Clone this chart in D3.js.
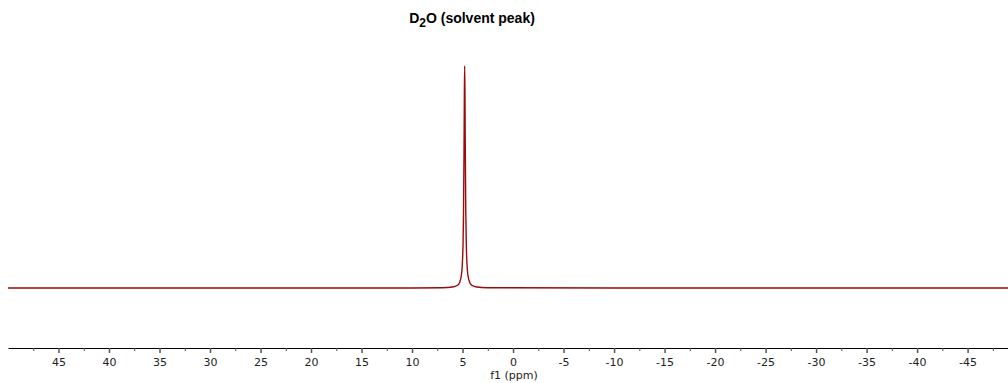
<!DOCTYPE html>
<html>
<head>
<meta charset="utf-8">
<script src="https://cdn.jsdelivr.net/npm/d3@7"></script>
<style>
  body { margin: 0; background: #fff; }
  svg { display: block; }
</style>
</head>
<body>
<div id="chart"></div>
<script>
var width = 1008;
var height = 383;

// spectrum points: chemical shift (ppm) and relative intensity
var shiftPpm = [50, 20, 10, 7, 6, 5.5, 5.3, 5.1, 5.0, 4.95, 4.9, 4.85, 4.82, 4.79,
	4.76, 4.73, 4.68, 4.63, 4.58, 4.48, 4.28, 4.08, 3.58, 2.58, -10, -49];
var intensity = [0, 0, 0.0002, 0.0013, 0.0044, 0.0125, 0.024, 0.062, 0.127, 0.2, 0.346, 0.64, 0.877, 1,
	0.877, 0.64, 0.346, 0.2, 0.127, 0.062, 0.024, 0.0125, 0.0044, 0.0013, 0, 0];

var majorTicks = [45, 40, 35, 30, 25, 20, 15, 10, 5, 0, -5, -10, -15, -20, -25, -30, -35, -40, -45];
var minorTicks = [47.5, 42.5, 37.5, 32.5, 27.5, 22.5, 17.5, 12.5, 7.5, 2.5, -2.5, -7.5, -12.5,
	-17.5, -22.5, -27.5, -32.5, -37.5, -42.5, -47.5];

var titleText = "D";
var axisLabel = "f1 (ppm)";

var svg = d3.select("#chart")
	.append("svg")
	.attr("width", width)
	.attr("height", height);

// 比例尺
var x = d3.scaleLinear().domain([50, -49]).range([8, 1008]);
var y = d3.scaleLinear().domain([0, 1]).range([288, 66]);

// 标题
var title = svg.append("text")
	.attr("x", 472)
	.attr("y", 23)
	.attr("text-anchor", "middle")
	.attr("font-family", "Liberation Sans, Arial, sans-serif")
	.attr("font-weight", "bold")
	.attr("font-size", "14px")
	.attr("fill", "#000");
title.append("tspan").text(titleText);
title.append("tspan").attr("dy", 4).attr("font-size", "12px").text("2");
title.append("tspan").attr("dy", -4).text("O (solvent peak)");

// 谱线
var pts = shiftPpm.map((d, i) => [d, intensity[i]]);
var line = d3.line()
	.x(d => x(d[0]))
	.y(d => y(d[1]))
	.curve(d3.curveMonotoneX);

svg.append("path")
	.datum(pts)
	.attr("fill", "none")
	.attr("stroke", "#9b0a0a")
	.attr("stroke-width", 1.4)
	.attr("d", line);

// 坐标轴
var axisY = 348;
var axis = d3.axisBottom(x)
	.tickValues(majorTicks)
	.tickSize(5)
	.tickSizeOuter(0)
	.tickFormat(d => d3.format("d")(d).replace("−", "-"));

var gAxis = svg.append("g")
	.attr("transform", `translate(0,${axisY})`)
	.call(axis);
gAxis.select(".domain").attr("stroke", "#000").attr("stroke-width", 1.2);
gAxis.selectAll(".tick line").attr("stroke", "#555").attr("stroke-width", 1.5);
gAxis.selectAll(".tick text")
	.attr("y", 10)
	.attr("font-family", "DejaVu Sans, Verdana, sans-serif")
	.attr("font-size", "11px")
	.attr("fill", "#222");

var minor = d3.axisBottom(x)
	.tickValues(minorTicks)
	.tickSize(3)
	.tickFormat("");
var gMinor = svg.append("g")
	.attr("transform", `translate(0,${axisY})`)
	.call(minor);
gMinor.select(".domain").remove();
gMinor.selectAll(".tick line").attr("stroke", "#555").attr("stroke-width", 1);

svg.append("text")
	.attr("x", 514)
	.attr("y", 379)
	.attr("text-anchor", "middle")
	.attr("font-family", "DejaVu Sans, Verdana, sans-serif")
	.attr("font-size", "11px")
	.attr("fill", "#222")
	.text(axisLabel);
</script>
</body>
</html>
